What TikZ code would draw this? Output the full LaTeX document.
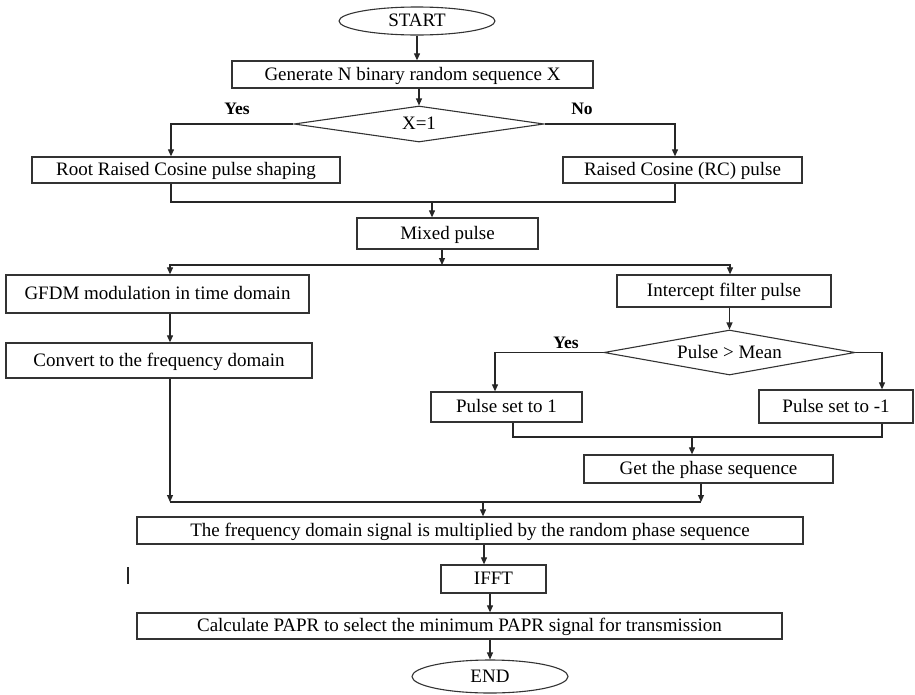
\documentclass[tikz,border=0pt]{standalone}
\usepackage{fontspec}
\setmainfont{Liberation Serif}
\usetikzlibrary{shapes.geometric,arrows.meta}
\begin{document}
\begin{tikzpicture}[x=1pt,y=-1pt,
  txt/.style={font=\fontsize{19}{22}\selectfont,text height=12.5pt,text depth=1pt},
  box/.style={txt,draw=black!80,line width=1.3pt,rectangle,inner sep=0pt},
  term/.style={txt,draw=black!80,line width=1.1pt,ellipse,inner sep=0pt},
  dia/.style={txt,draw=black!80,line width=1.1pt,diamond,aspect=6,inner sep=0pt},
  lab/.style={font=\fontsize{17.5}{20}\selectfont\bfseries},
  conn/.style={draw=black!85,line width=1.1pt},
  arr/.style={conn,-{Triangle[length=7pt,width=6pt]}}]
\useasboundingbox (0,0) rectangle (915,694);
\fill[white] (0,0) rectangle (915,694);

% nodes
\node[term,minimum width=156pt,minimum height=28pt] (start) at (417,21) {START};
\node[box,minimum width=361pt,minimum height=27pt] (gen) at (412.5,74.5) {Generate N binary random sequence X};
\node[dia,minimum width=250pt,minimum height=36pt] (d1) at (419,124) {X=1};
\node[lab] (yes1) at (237,109) {Yes};
\node[lab] (no1) at (582,109) {No};
\node[box,minimum width=308pt,minimum height=26pt] (root) at (186,170) {Root Raised Cosine pulse shaping};
\node[box,minimum width=239pt,minimum height=26pt] (rc) at (682.5,170) {Raised Cosine (RC) pulse};
\node[box,minimum width=181pt,minimum height=31pt] (mix) at (447.5,233.5) {Mixed pulse};
\node[box,minimum width=303pt,minimum height=38pt] (gfdm) at (157.5,294) {GFDM modulation in time domain};
\node[box,minimum width=306pt,minimum height=35pt] (conv) at (159,360.5) {Convert to the frequency domain};
\node[box,minimum width=214pt,minimum height=32pt] (icp) at (724,291) {Intercept filter pulse};
\node[dia,minimum width=251pt,minimum height=45pt] (d2) at (729.5,352.5) {Pulse \textgreater{} Mean};
\node[lab] (yes2) at (566,343) {Yes};
\node[box,minimum width=151pt,minimum height=30pt] (p1) at (506.5,407) {Pulse set to 1};
\node[box,minimum width=154pt,minimum height=33pt] (pm1) at (836,406.5) {Pulse set to -1};
\node[box,minimum width=249pt,minimum height=28pt] (gp) at (708.5,469) {Get the phase sequence};
\node[box,minimum width=666pt,minimum height=27pt] (freq) at (470,530.5) {The frequency domain signal is multiplied by the random phase sequence};
\node[box,minimum width=105pt,minimum height=28pt] (ifft) at (493.5,579) {IFFT};
\node[box,minimum width=645pt,minimum height=26pt] (calc) at (459.5,626) {Calculate PAPR to select the minimum PAPR signal for transmission};
\node[term,minimum width=156pt,minimum height=33pt] (end) at (490,676.5) {END};

% junction coordinates
\coordinate (j1) at (432,202);
\coordinate (j2) at (442,265);
\coordinate (j3) at (692,437);
\coordinate (j4) at (701,502);
\coordinate (j5) at (170,502);
\coordinate (j6) at (483,502);
\coordinate (a6) at (484,0);

% connectors
\draw[arr] (start.south) -- (start.south |- gen.north);
\draw[arr] (gen.south -| d1.north) -- (d1.north);
\draw[arr] (d1.west) -| ([xshift=-15pt]root.north);
\draw[arr] (d1.east) -| ([xshift=-7.5pt]rc.north);
\draw[conn] ([xshift=-15pt]root.south) |- (j1) -| ([xshift=-7.5pt]rc.south);
\draw[arr] (j1) -- (j1 |- mix.north);
\draw[arr] (mix.south -| j2) -- (j2);
\draw[arr] (j2) -| ([xshift=12.5pt]gfdm.north);
\draw[arr] (j2) -| ([xshift=6pt]icp.north);
\draw[arr] ([xshift=12.5pt]gfdm.south) -- ([xshift=11pt]conv.north);
\draw[arr] (icp.south -| d2.north) -- (d2.north);
\draw[arr] (d2.west) -| ([xshift=-11.5pt]p1.north);
\draw[arr] (d2.east) -| ([xshift=46pt]pm1.north);
\draw[conn] ([xshift=6.5pt]p1.south) |- (j3) -| ([xshift=46pt]pm1.south);
\draw[arr] (j3) -- (j3 |- gp.north);
\draw[arr] (gp.south -| j4) -- (j4);
\draw[arr] (conv.south -| j5) -- (j5);
\draw[conn] (j5) -- (j4);
\draw[arr] (j6) -- (j6 |- freq.north);
\draw[arr] (freq.south -| a6) -- (ifft.north -| a6);
\draw[arr] (ifft.south -| end.north) -- (calc.north -| end.north);
\draw[arr] (calc.south -| end.north) -- (end.north);

% stray mark
\draw[line width=2pt,black!85] (128,567) -- (128,584);
\end{tikzpicture}
\end{document}
